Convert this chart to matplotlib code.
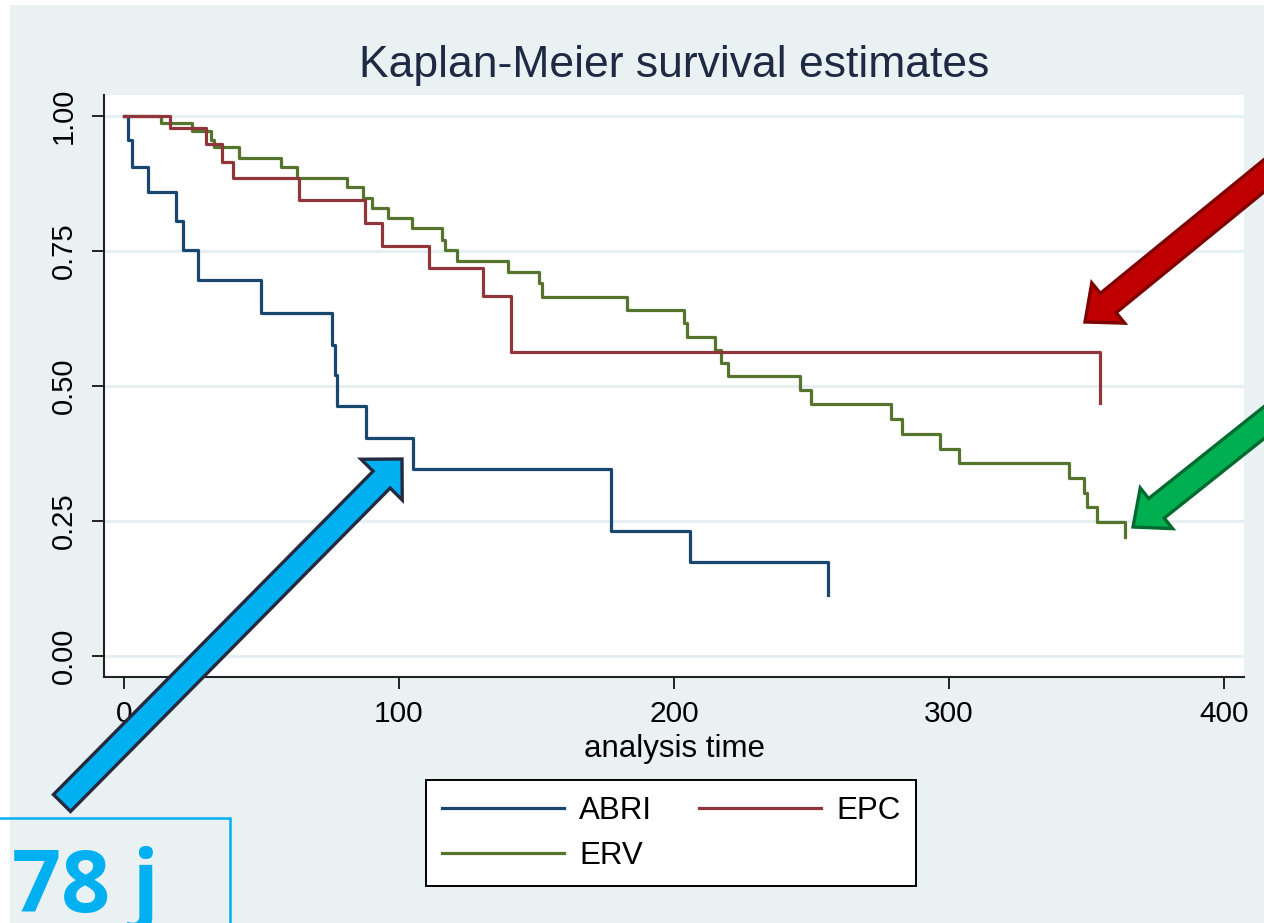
#
# Kaplan-Meier survival estimates (ABRI / EPC / ERV), Stata s2color look
#
import matplotlib
matplotlib.use('Agg')
import matplotlib.pyplot as plt
import matplotlib.transforms as mtransforms
from matplotlib.patches import FancyArrow, Rectangle

# --- data (time, survival) ---
abri_t = [0, 1.6, 2.8, 8.8, 18.9, 21.3, 26.8, 49.8, 75.5, 76.7, 77.6, 87.9,
          105, 177, 205.8, 256]
abri_s = [1.0, 0.955, 0.906, 0.860, 0.806, 0.751, 0.696, 0.635, 0.576, 0.520,
          0.463, 0.404, 0.346, 0.231, 0.174, 0.113]

epc_t = [0, 16.7, 29.7, 35.5, 39.7, 63.7, 87.6, 93.7, 110.9, 130.4, 140.7, 355]
epc_s = [1.0, 0.977, 0.948, 0.915, 0.885, 0.844, 0.802, 0.760, 0.719, 0.667,
         0.5635, 0.469]

erv_t = [0, 13.5, 24.8, 31.6, 32.7, 41.8, 57, 62.8, 81, 86.8, 90.1, 95.9,
         104.8, 115.5, 116.6, 121, 139.8, 151, 151.9, 183, 203.8, 204.6,
         214.9, 217, 219.8, 246, 249.7, 278.9, 282.8, 296.7, 303.6, 343.6,
         349, 350.3, 353.7, 364]
erv_s = [1.0, 0.988, 0.973, 0.956, 0.942, 0.923, 0.906, 0.886, 0.868, 0.849,
         0.830, 0.812, 0.792, 0.771, 0.752, 0.732, 0.712, 0.690, 0.664, 0.641,
         0.616, 0.591, 0.567, 0.542, 0.518, 0.493, 0.466, 0.438, 0.412, 0.383,
         0.358, 0.329, 0.301, 0.275, 0.249, 0.220]

x_ticks = [0, 100, 200, 300, 400]
y_ticks = [0.0, 0.25, 0.5, 0.75, 1.0]

W, H = 1264, 923
BG = '#EAF1F3'
plt.rcParams['font.family'] = ['Liberation Sans', 'DejaVu Sans']

fig = plt.figure(figsize=(W / 100, H / 100), dpi=100)
fig.patch.set_facecolor('white')

px = mtransforms.IdentityTransform()


def img(x, y):
    # image pixel coords (origin top-left) -> display coords
    return x, H - y


# graph region background (white strip on left and top)
fig.add_artist(Rectangle((10, 0), W - 10, H - 5, transform=px,
                         facecolor=BG, edgecolor='none', zorder=-5))

ax = fig.add_axes([104 / W, 246 / H, 1140 / W, 582 / H])
ax.set_facecolor('white')
ax.set_xlim(-7.27, 407.3)
ax.set_ylim(-0.039, 1.039)

for yv in y_ticks:
    ax.axhline(yv, color='#E6EFF1', lw=2.2, zorder=0)

ax.step(abri_t, abri_s, where='post', color='#1A476F', lw=2.3, label='ABRI')
ax.step(erv_t, erv_s, where='post', color='#55752F', lw=2.3, label='ERV')
ax.step(epc_t, epc_s, where='post', color='#90353B', lw=2.3, label='EPC')

for side in ['top', 'right']:
    ax.spines[side].set_visible(False)
for side in ['left', 'bottom']:
    ax.spines[side].set_color('#222222')
    ax.spines[side].set_linewidth(1.5)

ax.set_xticks(x_ticks)
ax.set_xticklabels([str(v) for v in x_ticks], fontsize=21.5)
ax.set_yticks(y_ticks)
ax.set_yticklabels(['%.2f' % v for v in y_ticks], fontsize=21, rotation=90,
                   va='center')
ax.tick_params(axis='both', length=8.6, width=1.4, color='#222222')
ax.tick_params(axis='x', pad=8)
ax.tick_params(axis='y', pad=10)

ax.set_xlabel('analysis time', fontsize=22.5, labelpad=4.5)

fig.text(674 / W, (H - 77) / H, 'Kaplan-Meier survival estimates',
         fontsize=32, color='#1E2A44', ha='center', va='baseline')

# legend: ABRI, EPC on first row, ERV on second
handles, labels = ax.get_legend_handles_labels()
leg = fig.legend(handles, labels, ncol=2, loc='upper left',
                 bbox_to_anchor=(426 / W, (H - 780) / H),
                 fontsize=22.5, frameon=True, fancybox=False, framealpha=1,
                 handlelength=3.9, handletextpad=0.5, columnspacing=1.5,
                 labelspacing=0.48, borderpad=0.5, borderaxespad=0)
leg.get_frame().set_edgecolor('black')
leg.get_frame().set_linewidth(1.4)
leg.get_frame().set_facecolor('white')

# annotation arrows (overlay, image pixel coords)
def arrow(tail, tip, width, hw, hl, fc, ec):
    x0, y0 = img(*tail)
    x1, y1 = img(*tip)
    a = FancyArrow(x0, y0, x1 - x0, y1 - y0, width=width,
                   length_includes_head=True, head_width=hw, head_length=hl,
                   transform=px, facecolor=fc, edgecolor=ec, lw=2.4,
                   zorder=20)
    fig.add_artist(a)


arrow((62, 803), (402, 459), 24, 58, 29, '#00B0F0', '#262A40')
arrow((1320, 130), (1085, 322), 25, 52, 30, '#C00000', '#7F0000')
arrow((1320, 378), (1133, 527), 25, 52, 30, '#00B050', '#006B30')

# "78 j" box
fig.add_artist(Rectangle(img(-5, 960), 235, 960 - 818, transform=px,
                         facecolor='none', edgecolor='#00B0F0', lw=1.8,
                         zorder=21))
fig.text(12 / W, (H - 912) / H, '78 j', fontsize=62, fontweight='bold',
         family='Open Sans', color='#00B0F0', ha='left', va='baseline',
         zorder=22)

fig.savefig('out.png', dpi=100, facecolor=fig.get_facecolor())
